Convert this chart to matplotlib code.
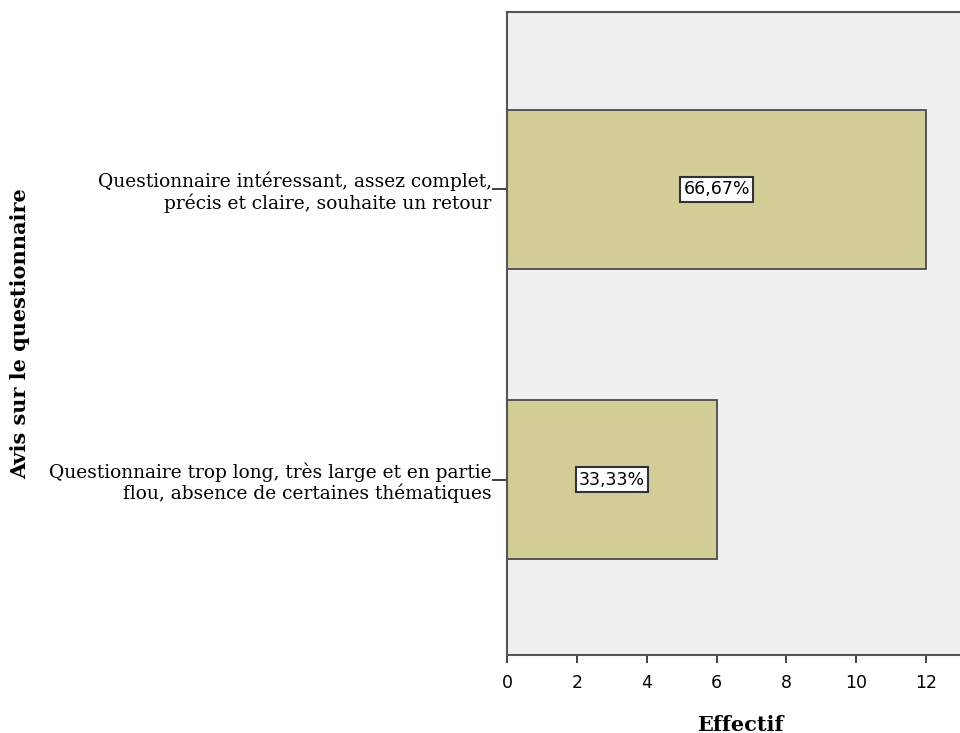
import matplotlib
matplotlib.use("Agg")
import matplotlib.pyplot as plt
from matplotlib.transforms import ScaledTranslation

categories = ["Questionnaire intéressant, assez complet,\nprécis et claire, souhaite un retour",
              "Questionnaire trop long, très large et en partie\nflou, absence de certaines thématiques"]
counts = [12, 6]
pct_labels = ["66,67%", "33,33%"]
xticks = [0, 2, 4, 6, 8, 10, 12]

W, H = 960, 733
fig = plt.figure(figsize=(W / 100, H / 100), dpi=100)
left, right, top, bottom = 507, 973, 12, 655
ax = fig.add_axes([left / W, 1 - bottom / H, (right - left) / W, (bottom - top) / H])
ax.set_facecolor("#F0F0F0")

ypos = list(range(len(categories)))
ax.barh(ypos, counts, height=0.548, color="#D3CE97", edgecolor="#4a4a4a", linewidth=1.3, zorder=2)
for y, c, lab in zip(ypos, counts, pct_labels):
    ax.text(c / 2, y, lab, ha="center", va="center", fontsize=12.5, family="DejaVu Sans",
            color="black", zorder=3,
            bbox=dict(boxstyle="square,pad=0.18", facecolor="white", edgecolor="#333333", linewidth=1.5))

ax.set_ylim(1.605, -0.612)
ax.set_xlim(0, (right - left) / 34.92)
ax.set_yticks(ypos)
ax.set_yticklabels(categories, family="DejaVu Serif", fontsize=13.4, linespacing=1.12)
for t in ax.get_yticklabels():
    t.set_transform(t.get_transform() + ScaledTranslation(0, -3 / 100, fig.dpi_scale_trans))
ax.set_xticks(xticks)
ax.set_xticklabels([str(t) for t in xticks], family="DejaVu Sans", fontsize=12.5)
ax.tick_params(axis="y", length=11, width=1.3, pad=0, color="#333333")
ax.tick_params(axis="x", length=6, width=1.3, pad=8, color="#333333")
for s in ["left", "bottom", "top"]:
    ax.spines[s].set_color("#555555")
    ax.spines[s].set_linewidth(1.5)
ax.spines["right"].set_visible(False)

ax.set_xlabel("Effectif", family="DejaVu Serif", fontweight="bold", fontsize=15, labelpad=16)
ax.set_ylabel("Avis sur le questionnaire", family="DejaVu Serif", fontweight="bold", fontsize=15)
ax.yaxis.set_label_coords(-(left - 30) / (right - left), 0.5)

fig.savefig("out.png", dpi=100)
